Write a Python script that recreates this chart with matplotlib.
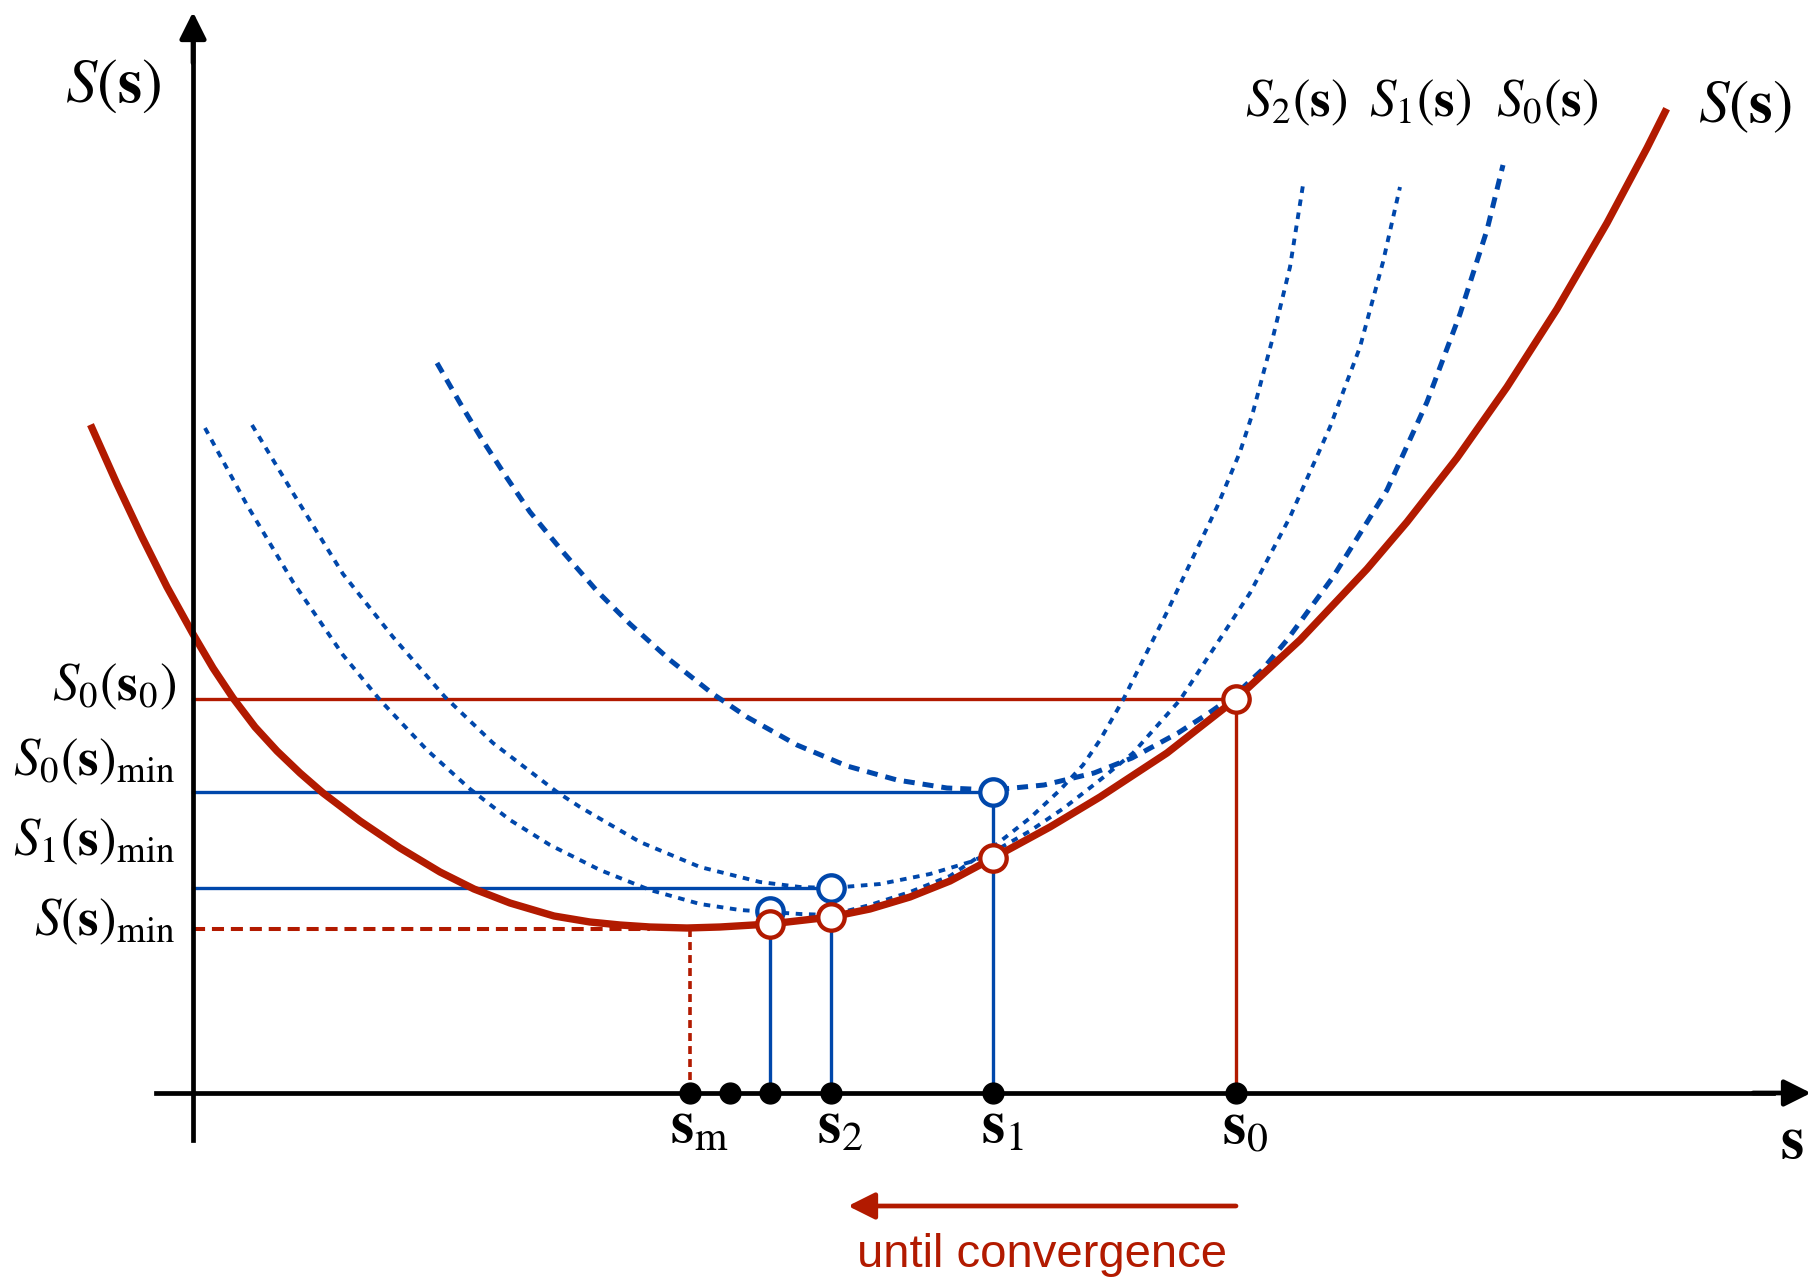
#!/usr/bin/env python3
"""
Majorisation-minimisation sketch: S(s) and its quadratic surrogates S0, S1, S2
"""

import matplotlib
matplotlib.use("Agg")
import matplotlib.pyplot as plt

plt.rcParams["mathtext.fontset"] = "stix"
plt.rcParams["font.family"] = ["STIXGeneral", "DejaVu Serif"]

RED = "#b21a00"
BLUE = "#0047ab"

# iterates along the s axis: s0, s1, s2, s3, s4, and the true minimiser s_m
s_iter = [10.43, 8.00, 6.38, 5.77, 5.37]
s_m = 4.97

# S(s) at the iterates s0..s3, and the global minimum value
S_at_iter = [3.94, 2.35, 1.76, 1.69]
S_min = 1.64

# minimum of each surrogate: S0 at s1, S1 at s2, S2 at s3
surr_min = [3.01, 2.05, 1.82]

# objective S(s)
S_s = [-1.01, -0.76, -0.51, -0.26, 0.00, 0.20, 0.40, 0.62, 0.84, 1.07, 1.30,
       1.67, 2.07, 2.47, 2.81, 3.17, 3.61, 3.97, 4.27, 4.57, 4.94, 5.27, 5.77,
       6.38, 6.77, 7.17, 7.57, 8.00, 8.57, 9.07, 9.74, 10.43, 11.07, 11.74,
       12.14, 12.64, 13.14, 13.64, 14.14, 14.54, 14.72]
S_v = [6.65, 6.09, 5.56, 5.06, 4.59, 4.25, 3.95, 3.66, 3.42, 3.20, 3.00,
       2.72, 2.45, 2.21, 2.04, 1.90, 1.77, 1.71, 1.68, 1.66, 1.65, 1.66, 1.69,
       1.76, 1.84, 1.96, 2.12, 2.35, 2.66, 2.96, 3.40, 3.94, 4.53, 5.24,
       5.71, 6.35, 7.06, 7.84, 8.70, 9.45, 9.81]

# surrogate S0(s) (thick dashes)
S0_s = [2.44, 2.67, 2.90, 3.14, 3.37, 3.70, 4.04, 4.37, 4.77, 5.20, 5.54,
        6.04, 6.54, 7.04, 7.54, 8.00, 8.51, 9.01, 9.39, 9.85, 10.16, 10.43,
        10.69, 10.94, 11.40, 11.94, 12.34, 12.67, 12.94, 13.10]
S0_v = [7.30, 6.90, 6.52, 6.15, 5.81, 5.41, 5.02, 4.69, 4.33, 3.99, 3.76,
        3.48, 3.27, 3.13, 3.05, 3.03, 3.08, 3.20, 3.35, 3.60, 3.80, 3.99,
        4.23, 4.53, 5.16, 6.03, 6.91, 7.79, 8.63, 9.28]

# surrogate S1(s) (dotted)
S1_s = [0.59, 1.00, 1.50, 2.00, 2.52, 3.00, 3.64, 3.87, 4.47, 5.07, 5.67,
        6.07, 6.38, 6.87, 7.37, 7.77, 8.00, 8.37, 8.71, 9.07, 9.40, 9.87,
        10.57, 10.97, 11.37, 11.67, 11.90, 12.07]
S1_v = [6.68, 6.00, 5.19, 4.56, 3.96, 3.50, 3.01, 2.86, 2.51, 2.26, 2.11,
        2.06, 2.05, 2.09, 2.19, 2.31, 2.41, 2.62, 2.85, 3.13, 3.40, 3.93,
        5.00, 5.76, 6.66, 7.46, 8.31, 9.06]

# surrogate S2(s) (dotted)
S2_s = [0.12, 0.54, 1.00, 1.50, 1.87, 2.34, 2.77, 3.17, 3.57, 4.07, 4.57,
        5.07, 5.47, 5.77, 6.07, 6.38, 6.77, 7.17, 7.57, 8.00, 8.37, 8.67,
        8.90, 9.07, 9.30, 9.74, 10.24, 10.47, 10.60, 10.80, 10.97, 11.10]
S2_v = [6.65, 5.88, 5.11, 4.38, 3.93, 3.43, 3.04, 2.73, 2.48, 2.23, 2.03,
        1.89, 1.83, 1.81, 1.79, 1.78, 1.88, 2.01, 2.17, 2.46, 2.75, 3.03,
        3.28, 3.53, 3.93, 4.81, 5.86, 6.41, 6.81, 7.56, 8.26, 9.08]

curve_labels = [r"$S_2(\mathbf{s})$", r"$S_1(\mathbf{s})$", r"$S_0(\mathbf{s})$"]
level_labels = [r"$S_0(\mathbf{s}_0)$", r"$S_0(\mathbf{s})_{\mathrm{min}}$",
                r"$S_1(\mathbf{s})_{\mathrm{min}}$", r"$S(\mathbf{s})_{\mathrm{min}}$"]
iter_labels = [r"$\mathbf{s}_0$", r"$\mathbf{s}_1$", r"$\mathbf{s}_2$",
               r"$\mathbf{s}_{\mathrm{m}}$"]


def arrow(ax, start, tip, color, lw):
    """straight arrow with a filled head"""
    ax.annotate("", xy=tip, xytext=start,
                arrowprops=dict(arrowstyle="-|>,head_length=0.9,head_width=0.45",
                                color=color, lw=lw, shrinkA=0, shrinkB=0,
                                mutation_scale=18),
                zorder=4)


def main():
    fig = plt.figure(figsize=(18.15, 12.8), dpi=100)
    ax = fig.add_axes([0, 0, 1, 1])
    ax.set_xlim(-1.93, 16.22)
    ax.set_ylim(-1.87, 10.93)
    ax.axis("off")

    # horizontal guide lines to the y axis
    ax.plot([0, s_iter[0]], [S_at_iter[0]] * 2, color=RED, lw=2.4, zorder=1)
    ax.plot([0, s_iter[1]], [surr_min[0]] * 2, color=BLUE, lw=2.4, zorder=1)
    ax.plot([0, s_iter[2]], [surr_min[1]] * 2, color=BLUE, lw=2.4, zorder=1)
    ax.plot([0, s_m - 0.4], [S_min] * 2, color=RED, lw=2.9,
            linestyle=(0, (3.0, 1.7)), zorder=1)

    # vertical drops to the s axis
    ax.plot([s_iter[0]] * 2, [0, S_at_iter[0]], color=RED, lw=2.4, zorder=1)
    for s, v in zip(s_iter[1:4], surr_min):
        ax.plot([s, s], [0, v], color=BLUE, lw=2.4, zorder=1)
    ax.plot([s_m, s_m], [0, S_min], color=RED, lw=2.6,
            linestyle=(0, (2.2, 1.4)), zorder=1)

    # surrogates
    ax.plot(S0_s, S0_v, color=BLUE, lw=3.6, linestyle=(0, (2.2, 1.6)), zorder=2)
    ax.plot(S1_s, S1_v, color=BLUE, lw=2.8, linestyle=(0, (1.7, 1.7)), zorder=2)
    ax.plot(S2_s, S2_v, color=BLUE, lw=2.8, linestyle=(0, (1.7, 1.7)), zorder=2)

    # objective
    ax.plot(S_s, S_v, color=RED, lw=5.3, zorder=3, solid_joinstyle="round")

    # axes with arrow heads
    ax.plot([0, 0], [-0.47, 10.5], color="black", lw=3.4, zorder=4)
    arrow(ax, (0, 10.3), (0, 10.81), "black", 3.4)
    ax.plot([-0.37, 15.8], [0, 0], color="black", lw=3.4, zorder=4)
    arrow(ax, (15.6, 0), (16.18, 0), "black", 3.4)

    # surrogate minima (blue) and points on S (red)
    ax.plot(s_iter[1:4], surr_min, "o", ms=19, mfc="white", mec=BLUE,
            mew=3.1, zorder=5)
    ax.plot(s_iter[:4], S_at_iter, "o", ms=19, mfc="white", mec=RED,
            mew=3.1, zorder=6)

    # iterates on the s axis
    ax.plot(s_iter + [s_m], [0] * (len(s_iter) + 1), "o", ms=15,
            color="black", zorder=7)

    # texts
    ax.text(-0.80, 10.06, r"$S(\mathbf{s})$", fontsize=45, ha="center", va="center")
    ax.text(15.52, 9.86, r"$S(\mathbf{s})$", fontsize=44, ha="center", va="center")
    for x, lab in zip([11.03, 12.27, 13.54], curve_labels):
        ax.text(x, 9.90, lab, fontsize=38, ha="center", va="center")
    for y, lab in zip([4.06, 3.31, 2.51, 1.71], level_labels):
        ax.text(-0.17, y, lab, fontsize=38, ha="right", va="center")
    for s, lab in zip(s_iter[:3] + [s_m], iter_labels):
        ax.text(s + 0.09, -0.36, lab, fontsize=43, ha="center", va="center")
    ax.text(15.99, -0.51, r"$\mathbf{s}$", fontsize=43, ha="center", va="center")

    # convergence arrow
    arrow(ax, (s_iter[0], -1.13), (s_iter[2] + 0.17, -1.13), RED, 3.4)
    ax.text(8.49, -1.62, "until convergence", fontsize=34, color=RED,
            ha="center", va="center", family=["Liberation Sans", "DejaVu Sans"])

    fig.savefig("out.png", dpi=100)
    plt.close(fig)


if __name__ == "__main__":
    main()
